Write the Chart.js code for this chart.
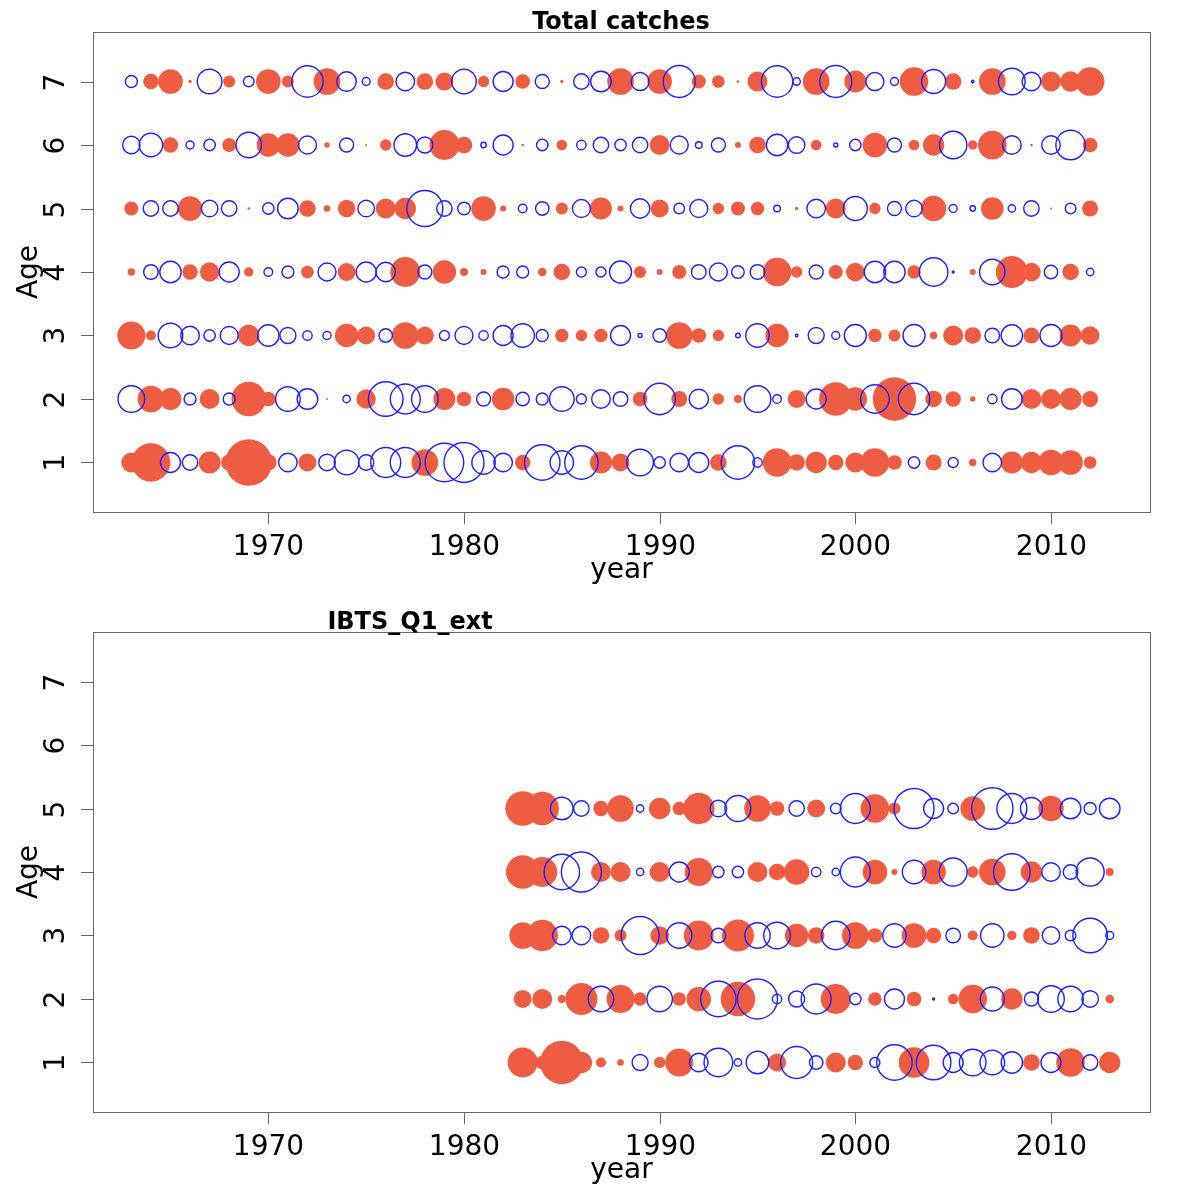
<!DOCTYPE html>
<html>
<head>
<meta charset="utf-8">
<script src="https://cdn.jsdelivr.net/npm/chart.js@4.4.0/dist/chart.umd.min.js"></script>
<style>
  body { margin: 0; background: #fff; }
  canvas { display: block; }
</style>
</head>
<body>
<canvas id="tcChart" width="1192" height="598"></canvas>
<canvas id="ibtsChart" width="1192" height="598"></canvas>
<script>
// residuals, positive = filled red, negative = open blue
const tcYears = [];
for (let y = 1963; y <= 2012; y++) tcYears.push(y);
const ibtsYears = [];
for (let y = 1983; y <= 2013; y++) ibtsYears.push(y);

const tcAge1 = [1.0, 1.93, -1.0, -0.77, 1.1, 0.8, 2.33, 0.83, -0.93, 0.9,
  -0.83, -1.23, -0.77, -1.5, -1.5, 1.33, -1.93, -2.0, -1.17, -0.93,
  0.77, -1.77, -1.17, -1.67, 1.1, 0.9, -1.33, -0.57, -0.93, -1.0,
  0.83, -1.67, -0.47, 1.43, 0.83, 1.07, 0.77, 1.0, 1.43, 0.73,
  -0.57, 0.8, -0.5, 0.37, -0.93, 1.1, 1.07, 1.27, 1.23, 0.63];
const tcAge2 = [-1.33, 1.33, 1.1, -0.6, 1.0, -0.6, 1.73, 0.73, -1.23, -1.03,
  0.1, -0.37, 0.97, -1.73, -1.5, -1.33, 1.1, 0.73, -0.7, 1.13,
  -0.67, -0.6, -1.23, -0.5, -0.93, -0.73, 0.73, -1.57, 0.8, -0.97,
  0.57, 0.4, -1.33, -0.43, 0.9, -1.0, 1.67, 1.17, -1.43, 2.17,
  -1.57, 0.83, 0.77, 0.27, -0.47, -1.03, 1.0, 1.0, 1.1, 0.8];
const tcAge3 = [1.4, 0.5, -1.23, -0.93, -0.57, -0.9, 1.07, -1.07, -0.8, -0.47,
  -0.4, 1.17, 0.9, -0.67, 1.33, 0.9, -0.5, -0.9, -0.47, -1.0,
  -1.17, -0.6, 0.67, 0.57, 0.67, -1.0, -0.2, -0.67, 1.33, 0.73,
  0.57, -0.23, -1.17, 1.17, -0.13, -0.8, -0.4, -1.1, 0.67, 0.6,
  -1.1, 0.37, 1.0, 0.83, -0.73, -1.07, 0.8, -1.1, 1.1, 0.93];
const tcAge4 = [0.37, -0.73, -1.07, 0.77, 0.97, -1.0, 0.47, -0.43, -0.6, 0.63,
  -0.9, 0.9, -1.0, -0.97, 1.5, -0.7, 1.17, 0.4, 0.3, -0.6,
  -0.6, 0.43, 0.83, -0.5, -0.5, -1.1, 0.6, 0.3, 0.7, -0.73,
  -0.9, -0.63, -0.73, 1.43, 0.57, -0.7, 0.7, 0.93, -1.07, -1.07,
  0.67, -1.43, -0.1, 0.3, -1.27, 1.6, 0.93, -0.67, 0.83, -0.37];
const tcAge5 = [0.7, -0.77, -0.77, 1.23, -0.83, -0.77, 0.13, -0.57, -1.03, 0.83,
  0.33, 0.87, -0.83, 1.0, 1.07, -1.8, -0.77, -0.63, 1.23, 0.3,
  -0.43, -0.67, 0.6, -0.9, 1.1, 0.3, -0.97, 0.9, -0.53, -0.9,
  0.57, 0.7, 0.67, -0.33, 0.17, -0.93, 1.0, -1.2, 0.57, -0.7,
  -0.83, 1.27, -0.4, -0.27, 1.13, -0.37, -0.77, 0.1, -0.53, 0.8];
const tcAge6 = [-0.87, -1.17, 0.77, -0.4, -0.57, 0.7, -1.27, 1.17, 1.17, -0.9,
  0.27, -0.7, 0.1, 0.57, -1.13, -0.8, 1.5, 0.83, -0.27, -1.0,
  0.13, -0.57, 0.53, -0.47, -0.77, -0.57, -0.77, 1.0, -0.9, -0.33,
  -0.7, 0.3, 0.83, -1.07, -0.83, 0.53, -0.2, -0.57, 1.23, -0.7,
  0.53, 1.07, -1.37, 0.47, 1.43, -0.93, 0.13, -0.93, -1.47, 0.73];
const tcAge7 = [-0.6, 0.77, 1.23, 0.17, -1.23, 0.6, -0.53, 1.23, 0.6, -1.57,
  1.33, -0.97, -0.4, 0.83, -0.93, 0.83, 0.9, -1.23, 0.57, -1.0,
  0.73, -0.7, 0.17, -0.77, -1.03, 1.33, -0.9, 1.23, -1.6, 0.7,
  0.63, 0.13, 1.0, -1.57, -0.37, 1.33, -1.6, 1.1, -0.9, -0.4,
  1.43, -1.2, 0.83, -0.13, 1.33, -1.33, -0.93, 1.0, 1.03, 1.43];

const ibtsAge1 = [1.5, 0.67, 2.17, 1.07, 0.5, 0.33, -0.8, 0.57, 1.4, -0.93,
  -1.43, -0.37, -1.13, 0.9, -1.6, -0.67, 1.0, 0.77, -0.5, -1.77,
  1.53, -1.73, -1.0, -1.33, -1.23, -1.07, 0.83, -1.0, 1.43, -0.77, 1.07];
const ibtsAge2 = [0.9, 1.0, 0.4, 1.6, -1.27, 1.4, 0.67, -1.27, 0.67, 1.23,
  -1.77, 1.73, -2.0, -0.47, -0.8, -1.5, 1.5, -0.57, 0.67, -1.0,
  0.73, -0.1, 0.53, 1.43, -1.2, 1.07, -0.7, -1.33, -1.27, -0.83, 0.43];
const ibtsAge3 = [1.33, 1.57, -0.93, -0.93, 0.83, 0.6, -1.9, 0.93, -1.27, 1.5,
  -0.73, 1.6, -1.27, -1.33, 1.17, 0.83, -1.43, 1.33, 0.73, -1.17,
  1.23, 0.77, -0.73, 0.5, -1.17, 0.47, 0.83, -0.87, -0.53, -1.73, -0.4];
const ibtsAge4 = [1.67, 1.5, -1.77, -2.0, 1.0, 1.0, -0.37, 1.0, -1.0, 1.4,
  -0.57, -0.57, 1.0, 0.83, 1.27, -0.47, -0.37, -1.5, 1.23, 0.3,
  -1.17, 1.23, -1.4, 0.57, 1.33, -1.83, 1.07, -0.93, -0.73, -1.4, 0.4];
const ibtsAge5 = [1.73, 1.67, -1.13, -0.77, 0.77, 1.33, -0.37, 1.07, 0.67, 1.57,
  -0.83, -1.3, 1.33, 0.73, -0.77, 0.9, -0.53, -1.5, 1.43, 0.6,
  -2.0, -1.0, -0.53, 1.23, -2.07, -1.5, -1.1, 1.27, -1.03, -0.6, -1.03];

const xTicks = [1970, 1980, 1990, 2000, 2010];
const yTicks = [1, 2, 3, 4, 5, 6, 7];

const RED = '#EE5C42';
const BLUE = '#1f1fff';
const SCALE = 10; // px per residual unit
const FONT = '"DejaVu Sans", sans-serif';

function buildPoints(years, rows, sign) {
    const pts = [];
    rows.forEach((row, i) => {
        const age = i + 1;
        row.forEach((v, j) => {
            if (sign > 0 ? v > 0 : v < 0) {
                pts.push({ x: years[j], y: age, r: Math.abs(v) * SCALE });
            }
        });
    });
    return pts;
}

// frame, axes and labels drawn R-style
const rFrame = {
    id: 'rFrame',
    afterDraw(chart, args, opts) {
        const ctx = chart.ctx;
        const a = chart.chartArea;
        const xs = chart.scales.x, ys = chart.scales.y;
        ctx.save();
        ctx.strokeStyle = '#666';
        ctx.lineWidth = 1;
        ctx.strokeRect(Math.round(a.left) + 0.5, Math.round(a.top) + 0.5,
            Math.round(a.right - a.left), Math.round(a.bottom - a.top));

        ctx.fillStyle = '#000';
        ctx.font = '28px ' + FONT;
        ctx.textAlign = 'center';
        ctx.textBaseline = 'alphabetic';
        xTicks.forEach(t => {
            const px = Math.round(xs.getPixelForValue(t)) + 0.5;
            ctx.beginPath();
            ctx.moveTo(px, a.bottom);
            ctx.lineTo(px, a.bottom + 12);
            ctx.stroke();
            ctx.fillText(String(t), px, a.bottom + 43);
        });
        ctx.fillText('year', (a.left + a.right) / 2, a.bottom + 66);

        yTicks.forEach(t => {
            const py = Math.round(ys.getPixelForValue(t)) + 0.5;
            ctx.beginPath();
            ctx.moveTo(a.left, py);
            ctx.lineTo(a.left - 12, py);
            ctx.stroke();
            ctx.save();
            ctx.translate(a.left - 29, py);
            ctx.rotate(-Math.PI / 2);
            ctx.fillText(String(t), 0, 0);
            ctx.restore();
        });
        ctx.save();
        ctx.translate(37, (a.top + a.bottom) / 2);
        ctx.rotate(-Math.PI / 2);
        ctx.fillText('Age', 0, 0);
        ctx.restore();

        ctx.font = 'bold 24px ' + FONT;
        ctx.fillText(opts.title, opts.titleX, a.top - 3);
        ctx.restore();
    }
};

function createPanel(id, years, rows, title, titleX, padTop, padBottom) {
    const ctx = document.getElementById(id).getContext('2d');
    return new Chart(ctx, {
        type: 'bubble',
        data: {
            datasets: [{
                label: 'negative',
                data: buildPoints(years, rows, -1),
                backgroundColor: 'rgba(0,0,0,0)',
                borderColor: BLUE,
                borderWidth: 1.4,
                hoverBorderWidth: 1.4,
                order: 0,
                clip: false
            }, {
                label: 'positive',
                data: buildPoints(years, rows, 1),
                backgroundColor: RED,
                borderWidth: 0,
                hoverBorderWidth: 0,
                order: 1,
                clip: false
            }]
        },
        options: {
            responsive: false,
            animation: false,
            devicePixelRatio: 1,
            layout: { padding: { left: 93, right: 42, top: padTop, bottom: padBottom } },
            scales: {
                x: { type: 'linear', min: 1961.04, max: 2015.06, display: false },
                y: { type: 'linear', min: 0.22, max: 7.78, display: false }
            },
            plugins: {
                legend: { display: false },
                tooltip: { enabled: false },
                rFrame: { title: title, titleX: titleX }
            },
            events: []
        },
        plugins: [rFrame]
    });
}

createPanel('tcChart', tcYears,
    [tcAge1, tcAge2, tcAge3, tcAge4, tcAge5, tcAge6, tcAge7],
    'Total catches', 621, 32, 86);
createPanel('ibtsChart', ibtsYears,
    [ibtsAge1, ibtsAge2, ibtsAge3, ibtsAge4, ibtsAge5],
    'IBTS_Q1_ext', 410, 34, 84);
</script>
</body>
</html>
